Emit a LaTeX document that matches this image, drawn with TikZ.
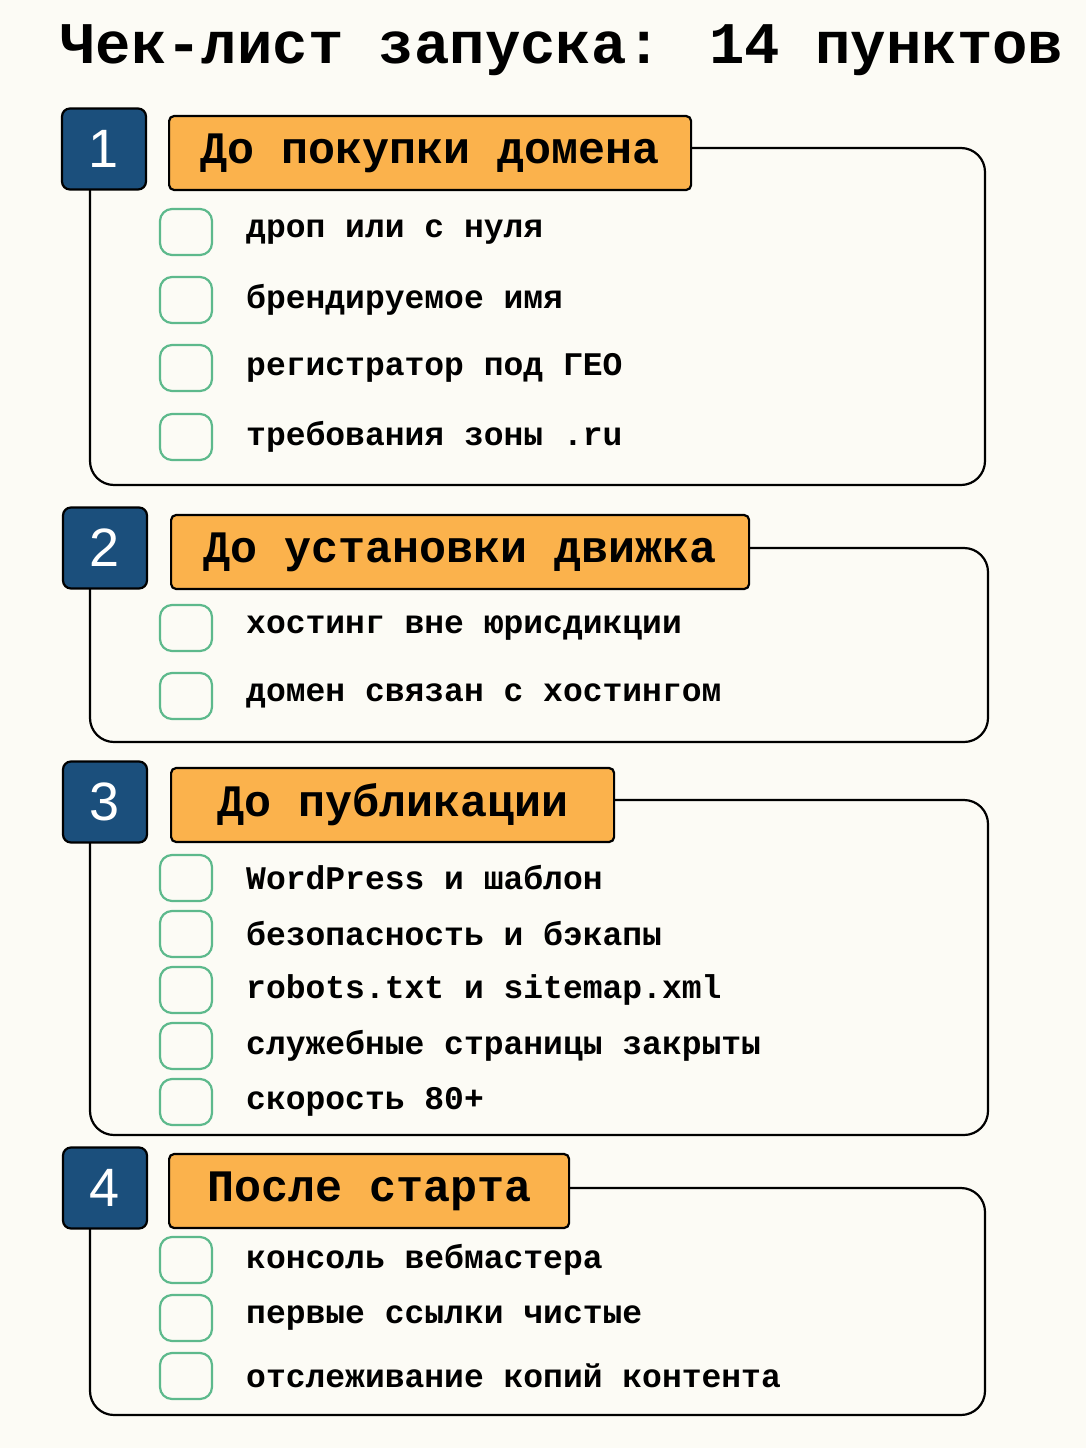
\documentclass[tikz,border=0pt]{standalone}
\usepackage{fontspec}
\setmainfont{Liberation Mono}
\newfontfamily\numfont{Liberation Sans}
\definecolor{paper}{HTML}{FCFBF5}
\definecolor{numblue}{HTML}{1B4F7C}
\definecolor{headorange}{HTML}{FBB24C}
\definecolor{boxgreen}{HTML}{5DB98C}
\tikzset{
  frame/.style={draw=black,line width=2.2pt,rounded corners=24pt},
  numbox/.style={draw=black,fill=numblue,line width=2.2pt,rounded corners=8pt,
    text=white,font=\numfont\fontsize{54}{54}\selectfont,inner sep=0pt},
  headbox/.style={draw=black,fill=headorange,line width=2.2pt,rounded corners=5pt,
    font=\bfseries\fontsize{45}{45}\selectfont,anchor=west,inner sep=0pt},
  check/.style={draw=boxgreen,line width=2.2pt,rounded corners=12pt,
    minimum width=52pt,minimum height=46pt,inner sep=0pt},
  item/.style={anchor=west,font=\bfseries\fontsize{33}{33}\selectfont,inner sep=0pt}
}
\begin{document}
\begin{tikzpicture}[x=1pt,y=-1pt]
  \fill[paper] (0,0) rectangle (1086,1448);
  \useasboundingbox (0,0) rectangle (1086,1448);
  \node[anchor=west,font=\bfseries\fontsize{59}{59}\selectfont,inner sep=0pt] (title) at (60,50)
    {Чек-лист запуска: 14 пунктов};
  % headers and frames
  \foreach \n/\nx/\ny/\hx/\hy/\hw/\fy/\fr/\fb/\htext in {
      1/104/149/168/153/522/148/985/485/До покупки домена,
      2/105/548/170/552/578/548/988/742/До установки движка,
      3/105/802/170/805/443/800/988/1135/До публикации,
      4/105/1188/168/1191/400/1188/985/1415/После старта} {
    \node[headbox,minimum width=\hw pt,minimum height=74pt] (head\n) at (\hx,\hy) {\htext};
    \node[numbox,minimum width=84pt,minimum height=81pt] (num\n) at (\nx,\ny) {\n};
    \draw[frame] (head\n.east |- 0,\fy) -- (\fr,\fy) -- (\fr,\fb) -- (90,\fb)
      -- (90,\ny+40);
  }
  % items
  \foreach \iy/\itext [count=\i] in {
      232/дроп или с нуля, 300/брендируемое имя, 368/регистратор под ГЕО,
      437/требования зоны .ru, 628/хостинг вне юрисдикции, 696/домен связан с хостингом,
      878/WordPress и шаблон, 934/безопасность и бэкапы, 990/robots.txt и sitemap.xml,
      1046/служебные страницы закрыты, 1102/скорость 80+,
      1260/консоль вебмастера, 1318/первые ссылки чистые,
      1376/отслеживание копий контента} {
    \node[check] (box\i) at (186,\iy) {};
    \node[item] (item\i) at (246,\iy) {\itext};
  }
\end{tikzpicture}
\end{document}
